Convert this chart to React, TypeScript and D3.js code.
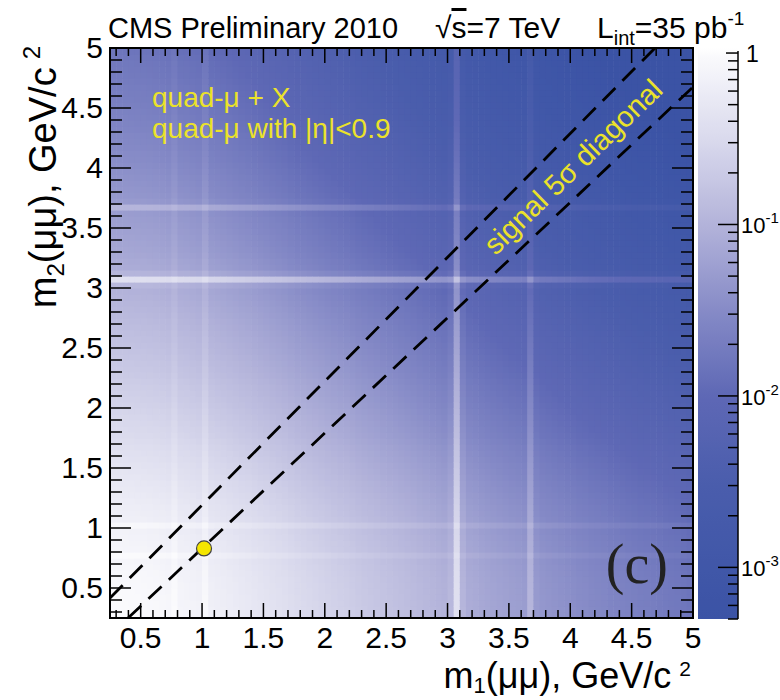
import React from 'react';
import * as d3 from 'd3';

// ---------- data ----------
const massLo = 0.25;
const massHi = 5.0;
const binWidth = 0.05;
// relative dimuon mass marginal density per 0.05 GeV bin (0.25 .. 5.0)
const marginal = [
  0.99, 0.985, 0.975, 0.965, 0.955, 0.945, 0.93, 0.91, 0.89, 0.86,
  1.0, 0.82, 0.8, 0.77, 0.74, 0.92, 0.69, 0.66, 0.64, 0.61,
  0.58, 0.55, 0.53, 0.5, 0.475, 0.455, 0.43, 0.41, 0.39, 0.365,
  0.34, 0.325, 0.31, 0.295, 0.28, 0.265, 0.252, 0.24, 0.23, 0.218,
  0.204, 0.194, 0.186, 0.177, 0.168, 0.16, 0.153, 0.146, 0.139, 0.133,
  0.125, 0.119, 0.113, 0.107, 0.102, 0.12, 0.4, 0.11, 0.085, 0.081,
  0.075, 0.071, 0.068, 0.065, 0.062, 0.059, 0.057, 0.054, 0.11, 0.051,
  0.046, 0.044, 0.042, 0.04, 0.038, 0.036, 0.034, 0.033, 0.031, 0.03,
  0.029, 0.027, 0.026, 0.025, 0.024, 0.023, 0.022, 0.0215, 0.021, 0.02,
  0.019, 0.0185, 0.018, 0.017, 0.016,
];
const xMajorTicks = [0.5, 1, 1.5, 2, 2.5, 3, 3.5, 4, 4.5, 5];
const xTickLabels = ['0.5', '1', '1.5', '2', '2.5', '3', '3.5', '4', '4.5', '5'];
const yMajorTicks = [0.5, 1, 1.5, 2, 2.5, 3, 3.5, 4, 4.5, 5];
const yTickLabels = ['0.5', '1', '1.5', '2', '2.5', '3', '3.5', '4', '4.5', '5'];
const zDomain = [5e-4, 1.07];
const zStops = [5e-4, 0.001, 0.003, 0.01, 0.03, 0.1, 0.3, 1, 1.07];
const zColors = ['#3b53a5', '#4057a8', '#4a5dac', '#5e68b5', '#8489c6', '#b3b3da', '#d8d8ec', '#fbfbfd', '#ffffff'];
const zMajorTicks = [1e-3, 1e-2, 1e-1];
const zMajorExp = ['-3', '-2', '-1'];
const upperDiag = [[0.25, 0.417], [4.69, 5.0]];
const lowerDiag = [[0.397, 0.25], [5.0, 4.675]];
const eventPoint = [1.016, 0.83];

// ---------- layout ----------
const W = 780, H = 700;
const L = 110, R = 693, T = 48, B = 618;
const CBL = 698, CBR = 738;
const FONT = '"Liberation Sans", Arial, Helvetica, sans-serif';

export default function App() {
  const x = d3.scaleLinear().domain([massLo, massHi]).range([L, R]);
  const y = d3.scaleLinear().domain([massLo, massHi]).range([B, T]);
  const color = d3.scaleLog<string>().domain(zStops).range(zColors).interpolate(d3.interpolateRgb).clamp(true);
  const zScale = d3.scaleLog().domain(zDomain).range([B + 1, T]);

  const cells: JSX.Element[] = [];
  for (let i = 0; i < marginal.length; i++) {
    for (let j = 0; j < marginal.length; j++) {
      const x0 = x(massLo + i * binWidth), x1 = x(massLo + (i + 1) * binWidth);
      const y0 = y(massLo + (j + 1) * binWidth), y1 = y(massLo + j * binWidth);
      cells.push(
        <rect key={i * 1000 + j} x={x0} y={y0} width={x1 - x0 + 0.6} height={y1 - y0 + 0.6}
          fill={color(marginal[i] * marginal[j])} />
      );
    }
  }

  const minor = d3.range(3, 51).map((k) => k / 10).filter((v) => Math.abs(v * 2 - Math.round(v * 2)) > 1e-6);

  const lz0 = Math.log10(zDomain[0]), lz1 = Math.log10(zDomain[1]);
  const gradStops = d3.range(0, 61).map((k) => {
    const t = k / 60; // 0 at top
    const v = Math.pow(10, lz1 - t * (lz1 - lz0));
    return <stop key={k} offset={`${t * 100}%`} stopColor={color(v)} />;
  });

  const zMinor: number[] = [];
  [1e-4, 1e-3, 1e-2, 1e-1].forEach((d) => {
    for (let k = 2; k <= 9; k++) {
      const v = k * d;
      if (v >= zDomain[0] && v <= zDomain[1]) zMinor.push(v);
    }
  });

  const line = d3.line<number[]>().x((d) => x(d[0])).y((d) => y(d[1]));

  const ang = (Math.atan2(y(upperDiag[0][1]) - y(upperDiag[1][1]), x(upperDiag[1][0]) - x(upperDiag[0][0])) +
    Math.atan2(y(lowerDiag[0][1]) - y(lowerDiag[1][1]), x(lowerDiag[1][0]) - x(lowerDiag[0][0]))) / 2 * 180 / Math.PI;

  return (
    <svg width={W} height={H} style={{ position: 'absolute', left: 0, top: 0, background: '#fff' }} fontFamily={FONT}>
      <defs>
        <linearGradient id="cb" x1="0" y1="0" x2="0" y2="1">{gradStops}</linearGradient>
        <clipPath id="plotclip"><rect x={L} y={T} width={R - L} height={B - T} /></clipPath>
      </defs>
      <g clipPath="url(#plotclip)">{cells}</g>

      {/* frame ticks */}
      <g stroke="#000" strokeWidth={1.5}>
        {xMajorTicks.map((t) => (
          <g key={'xm' + t}>
            <line x1={x(t)} x2={x(t)} y1={B} y2={B - 15} />
            <line x1={x(t)} x2={x(t)} y1={T} y2={T + 15} />
          </g>
        ))}
        {minor.map((t) => (
          <g key={'xn' + t}>
            <line x1={x(t)} x2={x(t)} y1={B} y2={B - 8} />
            <line x1={x(t)} x2={x(t)} y1={T} y2={T + 8} />
          </g>
        ))}
        {yMajorTicks.map((t) => (
          <g key={'ym' + t}>
            <line x1={L} x2={L + 21} y1={y(t)} y2={y(t)} />
            <line x1={R} x2={R - 21} y1={y(t)} y2={y(t)} />
          </g>
        ))}
        {minor.map((t) => (
          <g key={'yn' + t}>
            <line x1={L} x2={L + 12} y1={y(t)} y2={y(t)} />
            <line x1={R} x2={R - 12} y1={y(t)} y2={y(t)} />
          </g>
        ))}
      </g>

      {/* signal band */}
      <path d={line(upperDiag as number[][]) || ''} stroke="#000" strokeWidth={2.8} strokeDasharray="18 10" fill="none" />
      <path d={line(lowerDiag as number[][]) || ''} stroke="#000" strokeWidth={2.8} strokeDasharray="18 10" fill="none" />
      <text x={580} y={174} fontSize={29} fill="#ebe22a" textAnchor="middle"
        transform={`rotate(${-ang} 580 174)`}>signal 5σ diagonal</text>

      <circle cx={x(eventPoint[0])} cy={y(eventPoint[1])} r={7.5} fill="#f4e600" stroke="#444" strokeWidth={1.2} />

      <rect x={L} y={T} width={R - L} height={B - T} fill="none" stroke="#000" strokeWidth={2} />

      {/* legend */}
      <text x={152} y={107} fontSize={28} fill="#ebe22a">quad-μ + X</text>
      <text x={152} y={138} fontSize={28} fill="#ebe22a">quad-μ with |η|&lt;0.9</text>
      <text x={668} y={583} fontSize={56} fill="#222" textAnchor="end" fontFamily='"Liberation Serif", "Times New Roman", serif'>(c)</text>

      {/* tick labels */}
      {xMajorTicks.map((t, i) => (
        <text key={'xl' + t} x={x(t)} y={648} fontSize={30} textAnchor="middle">{xTickLabels[i]}</text>
      ))}
      {yMajorTicks.map((t, i) => (
        <text key={'yl' + t} x={103} y={y(t) + 10} fontSize={30} textAnchor="end">{yTickLabels[i]}</text>
      ))}

      {/* axis titles */}
      <text x={691} y={688} fontSize={36} textAnchor="end">
        m<tspan fontSize={22} dy={5}>1</tspan><tspan dy={-5}>(μμ), GeV/c</tspan><tspan fontSize={21} dy={-12} dx={8}>2</tspan>
      </text>
      <text transform="translate(56,46) rotate(-90)" fontSize={38} textAnchor="end">
        m<tspan fontSize={24} dy={8}>2</tspan><tspan dy={-8}>(μμ), GeV/c</tspan><tspan fontSize={24} dy={-16} dx={8}>2</tspan>
      </text>

      {/* header */}
      <text x={108} y={38} fontSize={29}>CMS Preliminary 2010</text>
      <text x={435} y={38} fontSize={30}>√<tspan style={{ textDecoration: 'overline' }}>s</tspan>=7 TeV</text>
      <text x={597} y={38} fontSize={30}>L<tspan fontSize={20} dy={7}>int</tspan><tspan dy={-7}>=35 pb</tspan><tspan fontSize={19} dy={-13}>-1</tspan></text>

      {/* colour bar */}
      <rect x={CBL} y={T} width={CBR - CBL} height={B + 1 - T} fill="url(#cb)" />
      <line x1={CBR} x2={CBR} y1={T + 3} y2={B + 1} stroke="#000" strokeWidth={1.5} />
      <g stroke="#000" strokeWidth={1.5}>
        {zMajorTicks.map((v) => <line key={'zm' + v} x1={CBR} x2={CBR - 20} y1={zScale(v)} y2={zScale(v)} />)}
        <line x1={CBR} x2={CBR - 12} y1={zScale(1)} y2={zScale(1)} />
        {zMinor.map((v) => <line key={'zn' + v} x1={CBR} x2={CBR - 10} y1={zScale(v)} y2={zScale(v)} />)}
      </g>
      <text x={746} y={zScale(1) + 9} fontSize={23}>1</text>
      {zMajorTicks.map((v, i) => (
        <text key={'zl' + v} x={741} y={zScale(v) + 9} fontSize={22}>10<tspan fontSize={15} dy={-10}>{zMajorExp[i]}</tspan></text>
      ))}
    </svg>
  );
}
